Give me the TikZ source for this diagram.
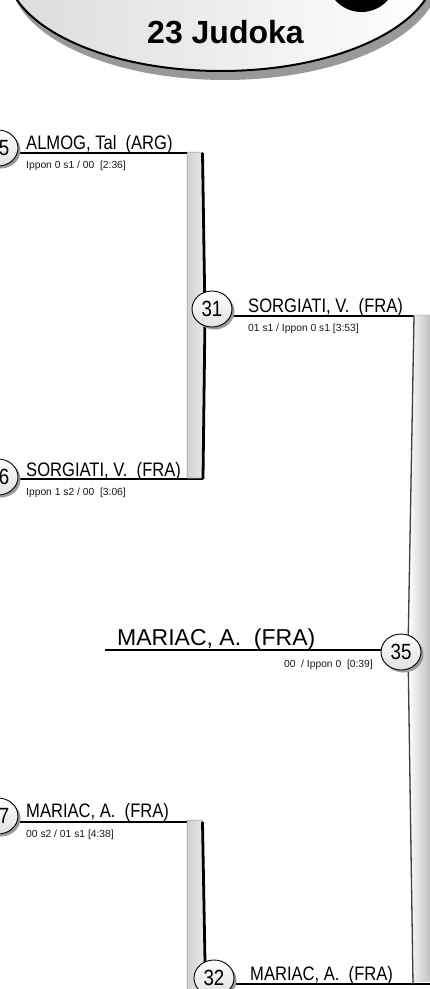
\documentclass[tikz,border=0pt]{standalone}
\usepackage{fontspec}
\setmainfont{Liberation Sans}
\newfontfamily\narrowfont[FakeStretch=0.85]{Liberation Sans}
\usetikzlibrary{shapes.geometric,shadows}
\begin{document}
\begin{tikzpicture}[x=1pt,y=-1pt,
  bline/.style={line width=2.8pt, black},
  namet/.style={font=\narrowfont\fontsize{19.5}{20}\selectfont, inner sep=0pt, anchor=base west},
  bignamet/.style={font=\fontsize{23}{24}\selectfont, inner sep=0pt, anchor=base west},
  scoret/.style={font=\fontsize{10.3}{11}\selectfont, inner sep=0pt, anchor=base west, text=black!90},
  numt/.style={font=\narrowfont\fontsize{22}{22}\selectfont, inner sep=0pt},
  mcirc/.style={ellipse, draw=black, line width=0.9pt, minimum width=40pt, minimum height=36pt,
    inner sep=0pt, top color=white, bottom color=black!12,
    drop shadow={shadow xshift=2.5pt, shadow yshift=-2.5pt, fill=black!40, opacity=1},
    font=\narrowfont\fontsize{22}{22}\selectfont},
  barshade/.style={left color=black!18, middle color=white, right color=black!8, draw=black!45, line width=0.5pt},
]
\useasboundingbox (0,0) rectangle (430,989);
\clip (0,0) rectangle (430,989);
\fill[white] (0,0) rectangle (430,989);

% header
\fill[black!40] (225,-24) ellipse [x radius=215, y radius=104];
\draw[line width=2pt, left color=black!14, right color=white] (221,-33) ellipse [x radius=215, y radius=104];
\fill[black] (361.5,-23) circle [radius=35];
\node[font=\bfseries\fontsize{32}{32}\selectfont, anchor=base, inner sep=0pt] (title) at (225.5,43) {23 Judoka};

% coordinates
\coordinate (e25) at (10,153);
\coordinate (e26) at (10,479);
\coordinate (e27) at (10,822);
\coordinate (j31a) at (202.5,153);
\coordinate (j31m) at (205,316);
\coordinate (j31b) at (203,479);
\coordinate (j32a) at (202.5,822);
\coordinate (j32m) at (205,962);
\coordinate (j32b) at (205.5,1000);
\coordinate (o31) at (212,316);
\coordinate (j35a) at (414,316);
\coordinate (j35m) at (408,650);
\coordinate (j35b) at (413,984);
\coordinate (o32) at (214,984);
\coordinate (r32) at (440,984);
\coordinate (w35) at (105,650);
\coordinate (o35) at (395,650);

% horizontal lines
\draw[bline] (e25) -- (j31a);
\draw[bline] (e26) -- (j31b);
\draw[bline] (e27) -- (j32a);
\draw[bline] (o31) -- (j35a);
\draw[bline] (o32) -- (r32);
\draw[bline] (w35) -- (o35);

% bars
\shade[barshade] (187,152) -- (202,152) -- (205,316) -- (203,478) -- (187,478) -- cycle;
\shade[barshade] (187,820) -- (202,820) -- (205,962) -- (205.5,1000) -- (187,1000) -- cycle;
\shade[left color=white, right color=black!35, draw=black!35, line width=0.5pt]
  (414,315) -- (440,315) -- (440,981) -- (413,981) -- (408,650) -- cycle;

% vertical bracket edges
\draw[bline] (j31a) -- (j31m) -- (j31b);
\draw[bline] (j32a) -- (j32m) -- (j32b);
\draw[line width=1.3pt, black!75] (j35a) -- (j35m) -- (j35b);

% circles
\node[mcirc] (c25) at (-2,148) {};
\node[numt] (n25) at (4,148) {5};
\node[mcirc] (c26) at (-2,477) {};
\node[numt] (n26) at (4,477) {6};
\node[mcirc] (c27) at (-2,816) {};
\node[numt] (n27) at (4,816) {7};
\node[mcirc] (m31) at (212,309) {31};
\node[mcirc] (m35) at (401,652) {35};
\node[mcirc] (m32) at (214,978) {32};

% texts
\node[namet] (t25) at (26,149) {ALMOG, Tal~~(ARG)};
\node[scoret] (s25) at (26,168.5) {Ippon 0 s1 / 00~~[2:36]};
\node[namet] (t26) at (26,476) {SORGIATI, V.~~(FRA)};
\node[scoret] (s26) at (26,495) {Ippon 1 s2 / 00~~[3:06]};
\node[namet] (t27) at (26,817) {MARIAC, A.~~(FRA)};
\node[scoret] (s27) at (26,837) {00 s2 / 01 s1 [4:38]};
\node[namet] (t31) at (248,312) {SORGIATI, V.~~(FRA)};
\node[scoret] (s31) at (248,331) {01 s1 / Ippon 0 s1 [3:53]};
\node[bignamet] (t35) at (117,645) {MARIAC, A.~~(FRA)};
\node[scoret, anchor=base east] (s35) at (373,667) {00~~/ Ippon 0~~[0:39]};
\node[namet] (t32) at (250,980) {MARIAC, A.~~(FRA)};
\end{tikzpicture}
\end{document}
